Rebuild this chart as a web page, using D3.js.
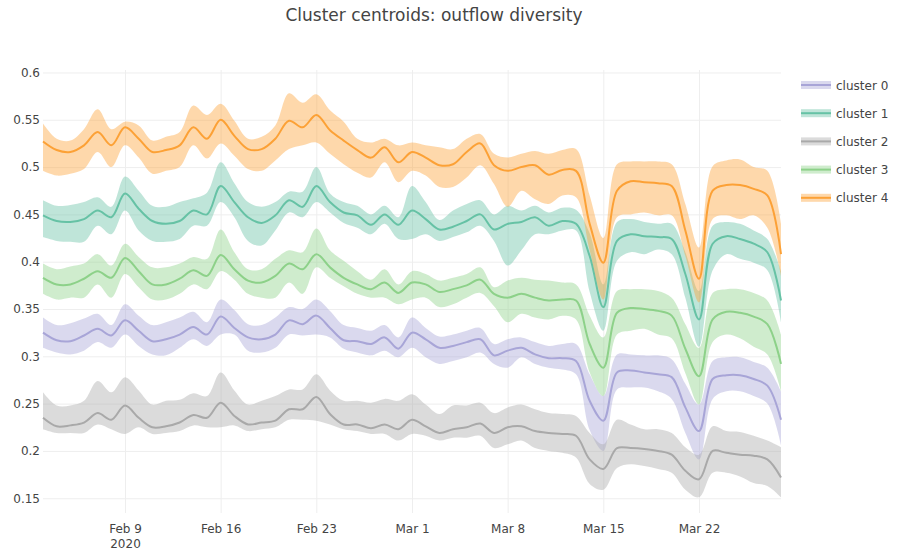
<!DOCTYPE html>
<html>
<head>
<meta charset="utf-8">
<script src="https://cdn.jsdelivr.net/npm/d3@7"></script>
<style>
  body { margin: 0; background: #fff; }
  text { font-family: "DejaVu Sans", Verdana, sans-serif; fill: #444; }
</style>
</head>
<body>
<div id="chart-area"></div>
<script>

// daily values, Feb 3 2020 .. Mar 28 2020
var startDay = new Date(Date.UTC(2020, 1, 3));
var endDay = new Date(Date.UTC(2020, 2, 28));

var clusterNames = ["cluster 0", "cluster 1", "cluster 2", "cluster 3", "cluster 4"];
var clusterColors = ["#a8a5d7", "#66c2a5", "#a9a9a9", "#8dd189", "#fca136"];

var yTicks = [0.15, 0.2, 0.25, 0.3, 0.35, 0.4, 0.45, 0.5, 0.55, 0.6];
var xTickDates = ["2020-02-09", "2020-02-16", "2020-02-23", "2020-03-01", "2020-03-08", "2020-03-15", "2020-03-22"];
var xTickLabels = ["Feb 9", "Feb 16", "Feb 23", "Mar 1", "Mar 8", "Mar 15", "Mar 22"];

// cluster 0
var mean0 = [0.325,0.317,0.316,0.322,0.329,0.322,0.338,0.327,0.316,0.318,0.323,0.331,0.323,0.342,
  0.330,0.320,0.318,0.323,0.338,0.334,0.343,0.330,0.317,0.316,0.313,0.320,0.308,
  0.325,0.318,0.309,0.311,0.315,0.318,0.301,0.306,0.309,0.302,0.298,0.298,0.295,
  0.253,0.232,0.283,0.285,0.283,0.281,0.278,0.246,0.221,0.276,0.280,0.280,0.276,0.269,0.233];
var hi0 = [0.341,0.333,0.335,0.340,0.345,0.333,0.355,0.343,0.333,0.336,0.341,0.347,0.336,0.360,
  0.349,0.334,0.333,0.341,0.352,0.350,0.360,0.348,0.333,0.330,0.327,0.333,0.320,
  0.341,0.330,0.321,0.323,0.327,0.330,0.313,0.318,0.320,0.315,0.311,0.313,0.313,
  0.281,0.258,0.302,0.302,0.301,0.301,0.297,0.271,0.249,0.295,0.299,0.299,0.294,0.288,0.263];
var lo0 = [0.309,0.304,0.302,0.306,0.315,0.309,0.323,0.311,0.302,0.301,0.309,0.318,0.311,0.323,
  0.323,0.306,0.304,0.309,0.323,0.322,0.323,0.320,0.308,0.304,0.301,0.306,0.299,
  0.309,0.299,0.292,0.295,0.299,0.304,0.292,0.288,0.299,0.292,0.288,0.286,0.281,
  0.222,0.200,0.265,0.267,0.267,0.263,0.255,0.219,0.191,0.255,0.263,0.263,0.258,0.250,0.206];

// cluster 1
var mean1 = [0.449,0.443,0.442,0.445,0.454,0.447,0.472,0.456,0.443,0.440,0.443,0.454,0.450,0.480,
  0.463,0.447,0.441,0.449,0.465,0.458,0.480,0.463,0.452,0.449,0.439,0.450,0.439,
  0.454,0.445,0.434,0.437,0.443,0.450,0.434,0.440,0.442,0.447,0.438,0.443,0.440,
  0.406,0.352,0.422,0.429,0.427,0.426,0.424,0.387,0.339,0.419,0.427,0.424,0.419,0.410,0.359];
var hi1 = [0.465,0.459,0.460,0.463,0.468,0.458,0.490,0.475,0.459,0.458,0.463,0.467,0.473,0.505,
  0.483,0.463,0.458,0.463,0.474,0.474,0.500,0.472,0.463,0.459,0.450,0.459,0.447,
  0.480,0.463,0.444,0.454,0.461,0.465,0.450,0.459,0.454,0.459,0.452,0.457,0.455,
  0.430,0.376,0.442,0.445,0.442,0.440,0.440,0.410,0.369,0.438,0.442,0.440,0.433,0.424,0.390];
var lo1 = [0.426,0.422,0.421,0.421,0.438,0.429,0.454,0.433,0.422,0.421,0.424,0.438,0.438,0.463,
  0.447,0.422,0.417,0.433,0.452,0.447,0.463,0.452,0.441,0.436,0.429,0.440,0.424,
  0.424,0.429,0.422,0.426,0.431,0.438,0.422,0.396,0.412,0.429,0.429,0.433,0.433,
  0.368,0.327,0.401,0.410,0.408,0.413,0.408,0.362,0.310,0.391,0.408,0.403,0.399,0.391,0.336];

// cluster 2
var mean2 = [0.235,0.226,0.227,0.230,0.240,0.233,0.248,0.235,0.225,0.226,0.230,0.238,0.235,0.251,
  0.237,0.228,0.230,0.232,0.244,0.244,0.257,0.239,0.228,0.228,0.224,0.228,0.223,
  0.233,0.226,0.219,0.223,0.225,0.229,0.219,0.225,0.226,0.221,0.219,0.218,0.216,
  0.191,0.181,0.203,0.203,0.202,0.200,0.196,0.179,0.170,0.200,0.198,0.196,0.195,0.191,0.172];
var hi2 = [0.262,0.248,0.248,0.253,0.274,0.262,0.278,0.264,0.249,0.253,0.254,0.261,0.258,0.283,
  0.264,0.249,0.253,0.258,0.265,0.265,0.281,0.264,0.253,0.253,0.251,0.255,0.253,
  0.260,0.249,0.239,0.248,0.248,0.251,0.240,0.246,0.249,0.244,0.240,0.239,0.237,
  0.219,0.207,0.233,0.228,0.223,0.223,0.219,0.204,0.196,0.226,0.221,0.220,0.216,0.211,0.204];
var lo2 = [0.223,0.219,0.219,0.219,0.228,0.223,0.218,0.225,0.218,0.219,0.221,0.227,0.225,0.225,
  0.227,0.221,0.223,0.225,0.233,0.233,0.232,0.228,0.223,0.221,0.218,0.218,0.211,
  0.218,0.216,0.211,0.214,0.214,0.216,0.203,0.207,0.211,0.203,0.200,0.198,0.193,
  0.165,0.159,0.182,0.186,0.184,0.181,0.177,0.159,0.151,0.177,0.177,0.173,0.166,0.163,0.151];

// cluster 3
var mean3 = [0.383,0.376,0.376,0.382,0.390,0.383,0.404,0.390,0.376,0.376,0.382,0.391,0.385,0.407,
  0.392,0.380,0.378,0.385,0.398,0.392,0.408,0.394,0.383,0.376,0.371,0.378,0.367,
  0.378,0.376,0.368,0.371,0.375,0.381,0.366,0.362,0.366,0.362,0.359,0.360,0.359,
  0.313,0.288,0.346,0.351,0.350,0.348,0.343,0.308,0.279,0.339,0.347,0.346,0.342,0.334,0.292];
var hi3 = [0.398,0.392,0.395,0.398,0.408,0.396,0.419,0.405,0.394,0.394,0.398,0.405,0.403,0.434,
  0.410,0.392,0.392,0.403,0.412,0.410,0.435,0.412,0.401,0.390,0.381,0.392,0.376,
  0.390,0.387,0.380,0.383,0.387,0.394,0.373,0.380,0.383,0.381,0.380,0.378,0.376,
  0.343,0.320,0.369,0.371,0.371,0.369,0.362,0.334,0.309,0.367,0.371,0.371,0.367,0.359,0.323];
var lo3 = [0.366,0.360,0.362,0.362,0.376,0.362,0.387,0.373,0.360,0.360,0.366,0.376,0.371,0.390,
  0.381,0.366,0.362,0.362,0.378,0.366,0.394,0.383,0.374,0.366,0.362,0.362,0.355,
  0.360,0.362,0.352,0.355,0.362,0.367,0.353,0.336,0.345,0.341,0.339,0.343,0.339,
  0.283,0.258,0.323,0.327,0.329,0.323,0.319,0.282,0.249,0.315,0.323,0.319,0.310,0.302,0.263];

// cluster 4
var mean4 = [0.527,0.518,0.516,0.523,0.537,0.523,0.542,0.530,0.516,0.518,0.523,0.542,0.530,0.550,
  0.533,0.519,0.519,0.530,0.549,0.542,0.555,0.539,0.528,0.518,0.510,0.521,0.505,
  0.516,0.510,0.502,0.503,0.516,0.525,0.502,0.496,0.500,0.502,0.492,0.497,0.496,
  0.440,0.399,0.475,0.485,0.484,0.483,0.480,0.433,0.382,0.475,0.481,0.481,0.477,0.470,0.408];
var hi4 = [0.546,0.530,0.528,0.540,0.561,0.540,0.548,0.544,0.528,0.532,0.537,0.565,0.555,0.567,
  0.549,0.530,0.532,0.544,0.578,0.568,0.577,0.560,0.548,0.530,0.526,0.530,0.523,
  0.526,0.523,0.521,0.519,0.530,0.535,0.514,0.510,0.514,0.517,0.514,0.518,0.519,
  0.470,0.425,0.503,0.506,0.506,0.506,0.503,0.461,0.415,0.501,0.507,0.508,0.500,0.496,0.440];
var lo4 = [0.496,0.491,0.493,0.498,0.516,0.500,0.523,0.510,0.493,0.496,0.500,0.523,0.509,0.525,
  0.512,0.498,0.496,0.507,0.519,0.523,0.526,0.514,0.503,0.494,0.489,0.505,0.484,
  0.496,0.491,0.479,0.479,0.489,0.502,0.482,0.458,0.475,0.466,0.461,0.470,0.468,
  0.412,0.360,0.447,0.450,0.452,0.449,0.449,0.406,0.357,0.445,0.449,0.445,0.449,0.436,0.385];

var means = [mean0, mean1, mean2, mean3, mean4];
var highs = [hi0, hi1, hi2, hi3, hi4];
var lows = [lo0, lo1, lo2, lo3, lo4];

var margin = {left: 43, right: 123, top: 70, bottom: 38};
var width = 904 - margin.left - margin.right,
    height = 551 - margin.top - margin.bottom;

var svg = d3.select("#chart-area")
  .append("svg")
    .attr("width", 904)
    .attr("height", 551);

var group = svg.append("g")
    .attr("transform", "translate(" + margin.left + ", " + margin.top + ")");

// title
svg.append("text")
    .attr("x", 434)
    .attr("y", 21)
    .attr("font-size", "17px")
    .attr("text-anchor", "middle")
    .text("Cluster centroids: outflow diversity");

var days = d3.utcDay.range(startDay, d3.utcDay.offset(endDay, 1));

var x = d3.scaleUtc()
    .domain([startDay, endDay])
    .range([0, width]);

var y = d3.scaleLinear()
    .domain([0.1344, 0.6026])
    .range([height, 0]);

// y grid + labels
var yAxisCall = d3.axisLeft(y)
    .tickValues(yTicks)
    .tickSize(-width)
    .tickPadding(3)
    .tickFormat(function(d){ return d3.format("")(+d.toFixed(2)); });
var yAxis = group.append("g")
    .attr("class", "y axis")
    .call(yAxisCall);
yAxis.select(".domain").remove();
yAxis.selectAll("line").attr("stroke", "#eeeeee");
yAxis.selectAll("text")
    .attr("font-size", "12px")
    .attr("font-family", "DejaVu Sans, Verdana, sans-serif")
    .attr("fill", "#444");

// x grid + labels
var parseDay = d3.utcParse("%Y-%m-%d");
var xTicks = xTickDates.map(parseDay);
var xAxisCall = d3.axisBottom(x)
    .tickValues(xTicks)
    .tickSize(-height)
    .tickPadding(11)
    .tickFormat(function(d, i){ return xTickLabels[i]; });
var xAxis = group.append("g")
    .attr("class", "x axis")
    .attr("transform", "translate(0, " + height + ")")
    .call(xAxisCall);
xAxis.select(".domain").remove();
xAxis.selectAll("line").attr("stroke", "#eeeeee");
xAxis.selectAll("text")
    .attr("font-size", "12px")
    .attr("font-family", "DejaVu Sans, Verdana, sans-serif")
    .attr("fill", "#444");
// year under the first tick
xAxis.select(".tick text")
    .append("tspan")
    .attr("x", 0)
    .attr("dy", "1.3em")
    .text("2020");

// bands and centre lines
var curve = d3.curveCatmullRom.alpha(0.5);

clusterNames.forEach(function(name, k){
  var rows = days.map(function(d, i){
    return {date: d, mean: means[k][i], hi: highs[k][i], lo: lows[k][i]};
  });

  var band = d3.area()
      .x(function(d){ return x(d.date); })
      .y0(function(d){ return y(d.lo); })
      .y1(function(d){ return y(d.hi); })
      .curve(curve);

  var line = d3.line()
      .x(function(d){ return x(d.date); })
      .y(function(d){ return y(d.mean); })
      .curve(curve);

  group.append("path")
      .datum(rows)
      .attr("d", band)
      .attr("fill", clusterColors[k])
      .attr("fill-opacity", 0.42)
      .attr("stroke", "none");

  group.append("path")
      .datum(rows)
      .attr("d", line)
      .attr("fill", "none")
      .attr("stroke", clusterColors[k])
      .attr("stroke-width", 2);
});

// legend
var legend = svg.append("g")
    .attr("transform", "translate(801, 85)");

var items = legend.selectAll("g")
    .data(clusterNames)
  .enter()
    .append("g")
    .attr("transform", function(d, i){ return "translate(0, " + (i * 28.2) + ")"; });

items.append("rect")
    .attr("x", 0)
    .attr("y", -4)
    .attr("width", 30)
    .attr("height", 8)
    .attr("fill", function(d, i){ return clusterColors[i]; })
    .attr("fill-opacity", 0.42);

items.append("line")
    .attr("x1", 0)
    .attr("x2", 30)
    .attr("y1", 0)
    .attr("y2", 0)
    .attr("stroke", function(d, i){ return clusterColors[i]; })
    .attr("stroke-width", 2);

items.append("text")
    .attr("x", 35)
    .attr("y", 4.5)
    .attr("font-size", "12px")
    .text(function(d){ return d; });

</script>
</body>
</html>
